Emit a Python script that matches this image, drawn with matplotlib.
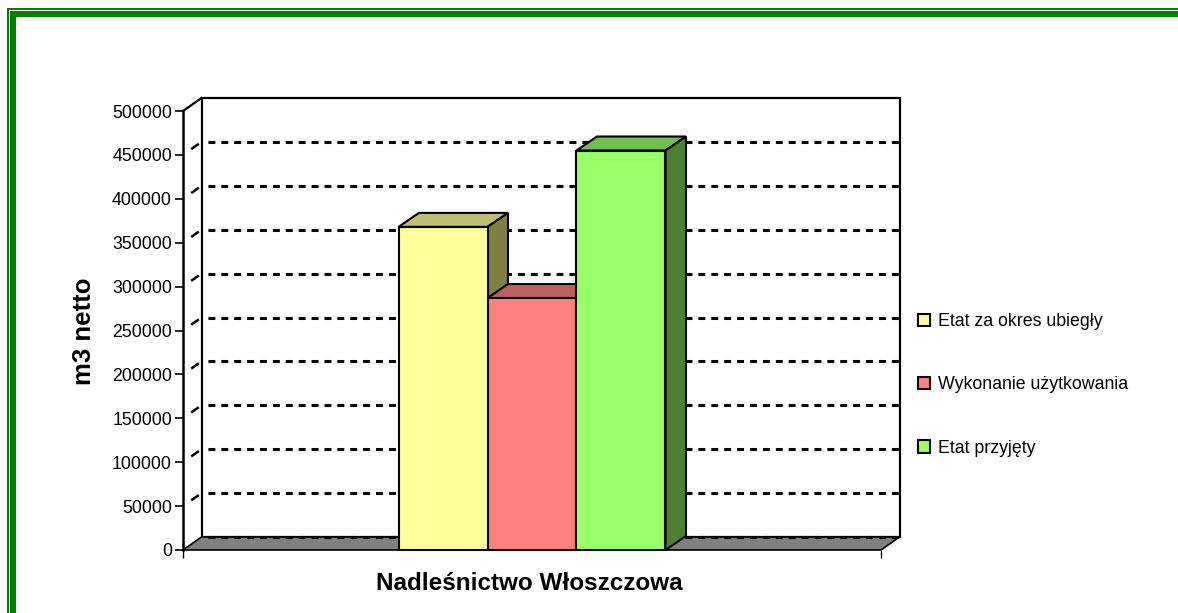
import matplotlib.pyplot as plt
from matplotlib.patches import Polygon, Rectangle, Patch

plt.rcParams['font.family'] = ['Liberation Sans', 'DejaVu Sans']

# data
series = ['Etat za okres ubiegły', 'Wykonanie użytkowania', 'Etat przyjęty']
values = [368000, 287000, 455000]
category = 'Nadleśnictwo Włoszczowa'
yticks = [0, 50000, 100000, 150000, 200000, 250000, 300000, 350000, 400000, 450000, 500000]

front_colors = ['#FFFF99', '#FF8080', '#99FF66']
top_colors = ['#BFBF73', '#BF6060', '#73BF4D']
side_colors = ['#808040', '#804040', '#4D8033']

W, H = 1178, 613
fig = plt.figure(figsize=(W / 100, H / 100), dpi=100)
fig.patch.set_facecolor('white')

# front plane of the 3d box, in pixels
left, right, bottom, top = 183, 881, 550, 111
ax = fig.add_axes([left / W, 1 - bottom / H, (right - left) / W, (bottom - top) / H])
ymax = 500000
ax.set_xlim(0, 1)
ax.set_ylim(0, ymax)

px_x = 1 / (right - left)
px_y = ymax / (bottom - top)
# depth of walls and bars
DX, DY = 18.5 * px_x, 13 * px_y
BDX, BDY = 20.5 * px_x, 14 * px_y

# back wall
ax.add_patch(Rectangle((DX, DY), 1, ymax, facecolor='white', edgecolor='black',
                       lw=1.6, zorder=1, clip_on=False))
# floor
ax.add_patch(Polygon([(0, 0), (1, 0), (1 + DX, DY), (DX, DY)], closed=True,
                     facecolor='#808080', edgecolor='black', lw=1.2, zorder=3, clip_on=False))
# side wall top edge
ax.plot([0, DX], [ymax, ymax + DY], color='black', lw=1.6, zorder=3, clip_on=False)

# gridlines on back wall and short marks on side wall
dash = (6.5, (2.27, 1.95))
for v in yticks[:-1]:
    ax.plot([DX, 1 + DX], [v + DY, v + DY], color='black', lw=2.2, linestyle=dash,
            zorder=4, clip_on=False)
    if v > 0:
        ax.plot([DX * 0.5, DX * 0.8], [v + DY * 0.5, v + DY * 0.8], color='black',
                lw=1.8, zorder=4, clip_on=False)

# bars
width = 0.1275
center = 0.5
xs = [center + (i - 1) * width for i in range(len(values))]
for i, (x, v) in enumerate(zip(xs, values)):
    z = 5 + i
    ax.bar(x, v, width=width, color=front_colors[i], edgecolor='black', lw=1.5,
           zorder=z + 0.5, clip_on=False)
    x0, x1 = x - width / 2, x + width / 2
    ax.add_patch(Polygon([(x0, v), (x1, v), (x1 + BDX, v + BDY), (x0 + BDX, v + BDY)],
                         closed=True, facecolor=top_colors[i], edgecolor='black',
                         lw=1.5, zorder=z, clip_on=False))
    ax.add_patch(Polygon([(x1, 0), (x1 + BDX, BDY), (x1 + BDX, v + BDY), (x1, v)],
                         closed=True, facecolor=side_colors[i], edgecolor='black',
                         lw=1.5, zorder=z, clip_on=False))

for s in ['top', 'right', 'bottom']:
    ax.spines[s].set_visible(False)
ax.spines['left'].set_linewidth(1.8)
ax.spines['left'].set_zorder(20)
ax.patch.set_visible(False)

ax.set_yticks(yticks)
ax.set_yticklabels([str(t) for t in yticks], fontsize=12.8)
ax.tick_params(axis='y', length=6, width=1.2, pad=2)
ax.set_xticks([0, 1])
ax.set_xticklabels(['', ''])
ax.tick_params(axis='x', length=6, width=1.0)

fig.text(529 / W, 1 - 583 / H, category, fontsize=17.5, fontweight='bold',
         ha='center', va='center')
fig.text(84 / W, 1 - 331 / H, 'm3 netto', fontsize=18.5, fontweight='bold',
         rotation=90, ha='center', va='center')

handles = [Patch(facecolor=c, edgecolor='black', lw=1.5) for c in front_colors]
fig.legend(handles, series, loc='center left', bbox_to_anchor=(918 / W, 1 - 385 / H),
           frameon=False, fontsize=12.8, handlelength=0.7, handleheight=0.7,
           handletextpad=0.45, labelspacing=2.6, borderpad=0, borderaxespad=0)

# green double border
g = '#008000'
def box(x0, y0, x1, y1):
    fig.add_artist(Rectangle((x0 / W, 1 - y1 / H), (x1 - x0) / W, (y1 - y0) / H,
                             transform=fig.transFigure, facecolor=g, edgecolor='none'))
box(7, 8, W, 10)
box(7, 8, 9, H)
box(10, 11, W, 17)
box(10, 11, 16, H)

fig.savefig('out.png', dpi=100)
